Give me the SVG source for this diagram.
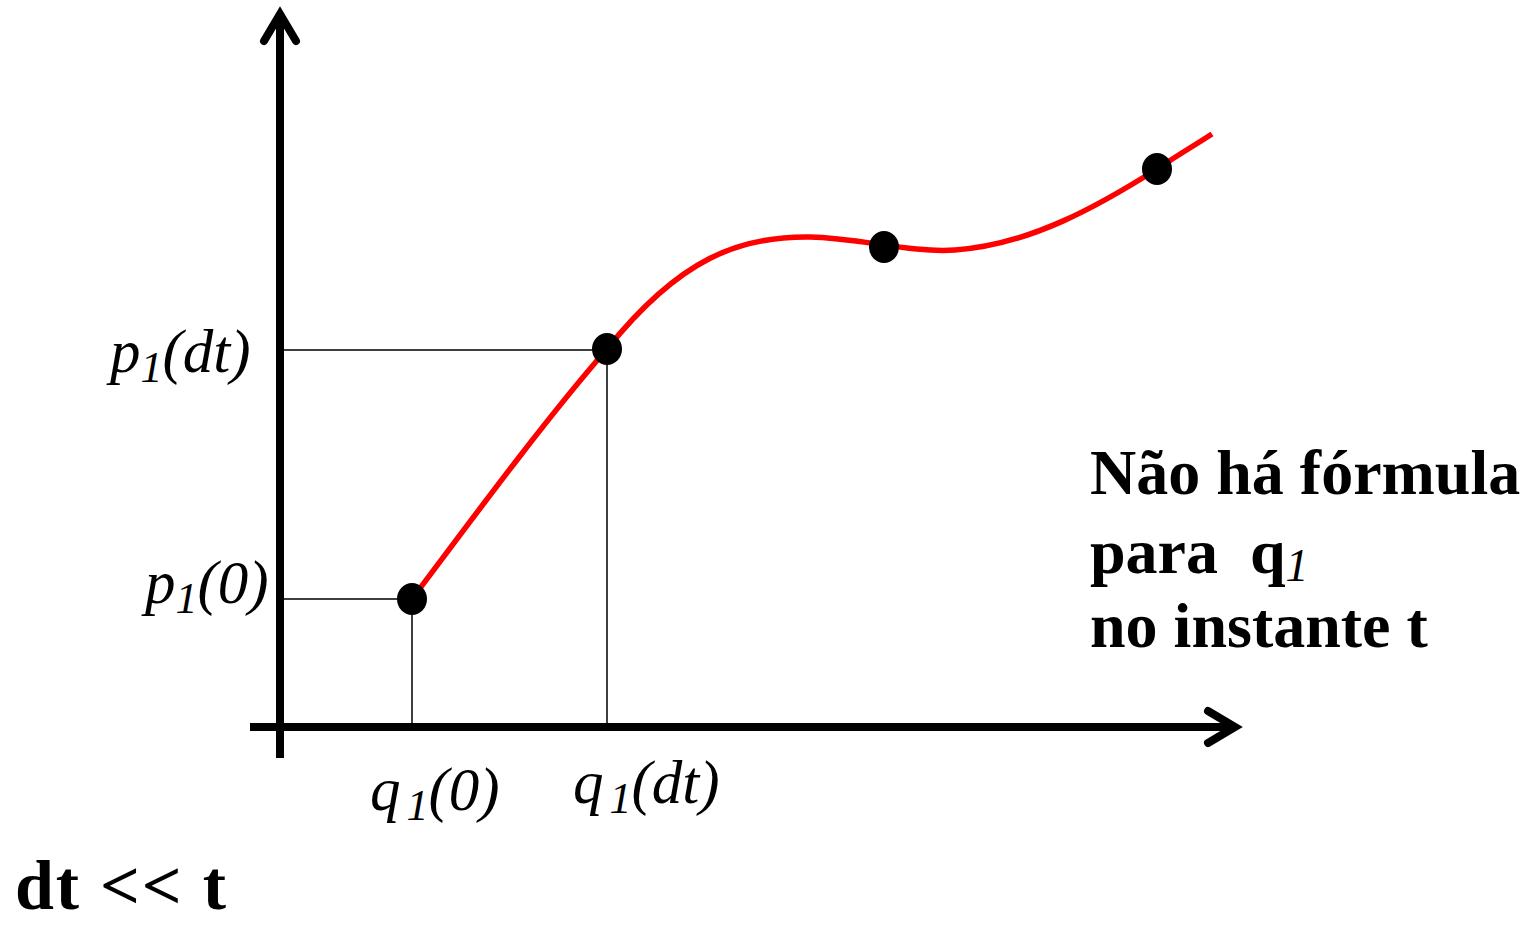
<svg xmlns="http://www.w3.org/2000/svg" width="1529" height="925" viewBox="0 0 1529 925">
<style>
.axis{stroke:#000;stroke-width:8;fill:none;stroke-linecap:round;stroke-linejoin:miter}
.thin{stroke:#000;stroke-width:1.5;fill:none}
.curve{stroke:#ff0000;stroke-width:5.5;fill:none}
.dot{fill:#000}
.it{font-family:"Liberation Serif","Times New Roman",serif;font-style:italic;fill:#000}
.bd{font-family:"Liberation Serif","Times New Roman",serif;font-weight:bold;fill:#000}
</style>
<rect width="1529" height="925" fill="#fff"/>
<g id="axes">
<line class="axis" x1="280" y1="16" x2="280" y2="758" style="stroke-linecap:butt"/>
<polyline class="axis" points="264,41 280,14 296,41"/>
<line class="axis" x1="250" y1="727" x2="1233" y2="727" style="stroke-linecap:butt"/>
<polyline class="axis" points="1208,711 1235,727 1208,743"/>
</g>
<g id="connectors">
<polyline class="thin" points="284,350 607,350 607,727"/>
<polyline class="thin" points="284,599 412,599 412,727"/>
<path class="curve" d="M412,599 C475,515 545,420 607,349 C680,258 740,236 810,237 C860,238 910,253 955,250 C1030,245 1100,205 1157,169 C1175,157 1195,145 1212,134"/>
</g>
<g id="points">
<ellipse class="dot" cx="412" cy="599" rx="15" ry="16"/>
<ellipse class="dot" cx="607" cy="349" rx="15" ry="16"/>
<ellipse class="dot" cx="884" cy="247" rx="15" ry="16"/>
<ellipse class="dot" cx="1157" cy="169" rx="15" ry="16"/>
</g>
<g id="labels">
<text class="it" x="110" y="372" font-size="61">p<tspan font-size="44" dy="10">1</tspan><tspan dy="-10">(dt)</tspan></text>
<text class="it" x="145" y="603" font-size="61">p<tspan font-size="44" dy="10">1</tspan><tspan dy="-10">(0)</tspan></text>
<text class="it" x="370" y="810" font-size="61">q<tspan font-size="44" dx="6" dy="10">1</tspan><tspan dy="-10">(0)</tspan></text>
<text class="it" x="573" y="803" font-size="61">q<tspan font-size="44" dx="6" dy="10">1</tspan><tspan dy="-10">(dt)</tspan></text>
</g>
<g id="note">
<text class="bd" x="1090" y="494" font-size="64">Não há fórmula</text>
<text class="bd" x="1090" y="573" font-size="64" xml:space="preserve">para  q<tspan class="it" font-weight="normal" font-size="46" dy="8">1</tspan></text>
<text class="bd" x="1090" y="647" font-size="64">no instante t</text>
<text class="bd" x="15" y="909" font-size="70" textLength="211" lengthAdjust="spacing">dt &lt;&lt; t</text>
</g>
</svg>
